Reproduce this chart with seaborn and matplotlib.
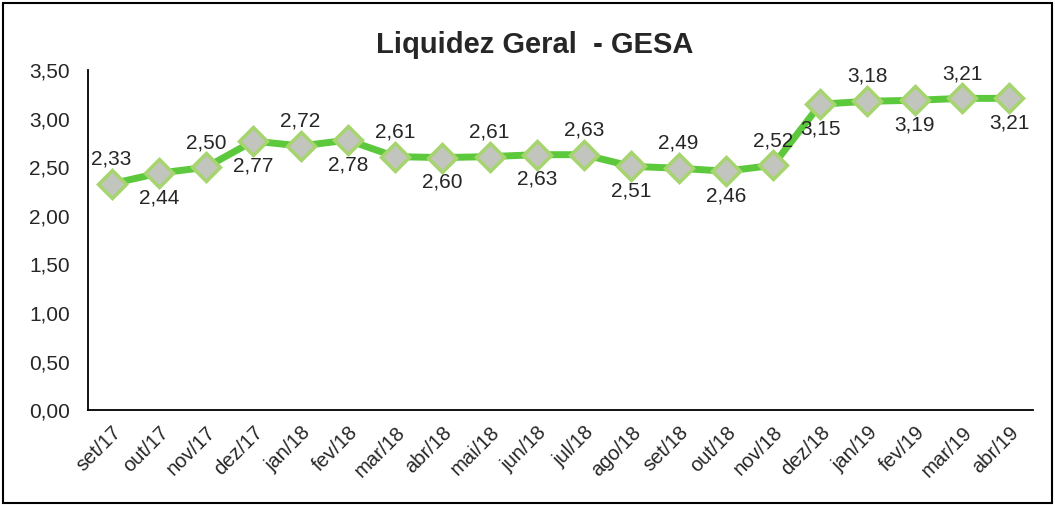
import matplotlib
matplotlib.use("Agg")
import matplotlib.pyplot as plt
import seaborn as sns
import pandas as pd
from matplotlib.patches import Rectangle
from matplotlib.ticker import FixedLocator, FuncFormatter

# ============================================================
#  Data
# ============================================================
meses = ["set/17", "out/17", "nov/17", "dez/17", "jan/18", "fev/18", "mar/18",
         "abr/18", "mai/18", "jun/18", "jul/18", "ago/18", "set/18", "out/18",
         "nov/18", "dez/18", "jan/19", "fev/19", "mar/19", "abr/19"]
liquidez = [2.33, 2.44, 2.50, 2.77, 2.72, 2.78, 2.61, 2.60, 2.61, 2.63,
            2.63, 2.51, 2.49, 2.46, 2.52, 3.15, 3.18, 3.19, 3.21, 3.21]
# label above (1) or below (-1) the point
posicao = [1, -1, 1, -1, 1, -1, 1, -1, 1, -1, 1, -1, 1, -1, 1, -1, 1, -1, 1, -1]
y_ticks = [0.0, 0.5, 1.0, 1.5, 2.0, 2.5, 3.0, 3.5]

df = pd.DataFrame({"mes": meses, "valor": liquidez})

sns.set_style("white")
plt.rcParams["font.family"] = ["Liberation Sans", "DejaVu Sans"]

fig = plt.figure(figsize=(10.55, 5.05), dpi=100)
ax = fig.add_axes([0.0834, 0.188, 0.8956, 0.673])

sns.lineplot(data=df, x="mes", y="valor", ax=ax, color="#5cc93c", linewidth=5,
             marker="D", markersize=14, markerfacecolor="#c2c5bd",
             markeredgecolor="#a6d46e", markeredgewidth=2.5, sort=False)

for i, (v, p) in enumerate(zip(liquidez, posicao)):
    txt = f"{v:.2f}".replace(".", ",")
    if p > 0:
        ax.annotate(txt, (i, v), xytext=(0, 11), textcoords="offset points",
                    ha="center", va="bottom", fontsize=15)
    else:
        ax.annotate(txt, (i, v), xytext=(0, -11), textcoords="offset points",
                    ha="center", va="top", fontsize=15)

ax.set_xlim(-0.5, len(meses) - 0.5)
ax.set_ylim(0, 3.5)
ax.set_yticks(y_ticks)
ax.yaxis.set_major_formatter(FuncFormatter(lambda v, _: f"{v:.2f}".replace(".", ",")))
ax.set_xticks(range(len(meses)))
ax.set_xticklabels(meses, rotation=45, ha="right", rotation_mode="anchor", fontsize=14.5)
ax.xaxis.set_minor_locator(FixedLocator([i - 0.5 for i in range(len(meses) + 1)]))
ax.tick_params(axis="x", which="major", length=0, pad=9)
ax.tick_params(axis="x", which="minor", length=6, width=1.3, color="black", direction="out")
ax.tick_params(axis="y", length=6, width=1.3, color="black", direction="out",
               labelsize=15, pad=7)
ax.set_xlabel("")
ax.set_ylabel("")

for s in ["top", "right"]:
    ax.spines[s].set_visible(False)
for s in ["left", "bottom"]:
    ax.spines[s].set_color("black")
    ax.spines[s].set_linewidth(1.3)

fig.text(0.507, 0.911, "Liquidez Geral  - GESA", ha="center", va="center",
         fontsize=21, fontweight="bold")

fig.patches.append(Rectangle((0.003, 0.004), 0.994, 0.99, transform=fig.transFigure,
                             fill=False, edgecolor="black", linewidth=1.5))

fig.savefig("out.png", dpi=100)
